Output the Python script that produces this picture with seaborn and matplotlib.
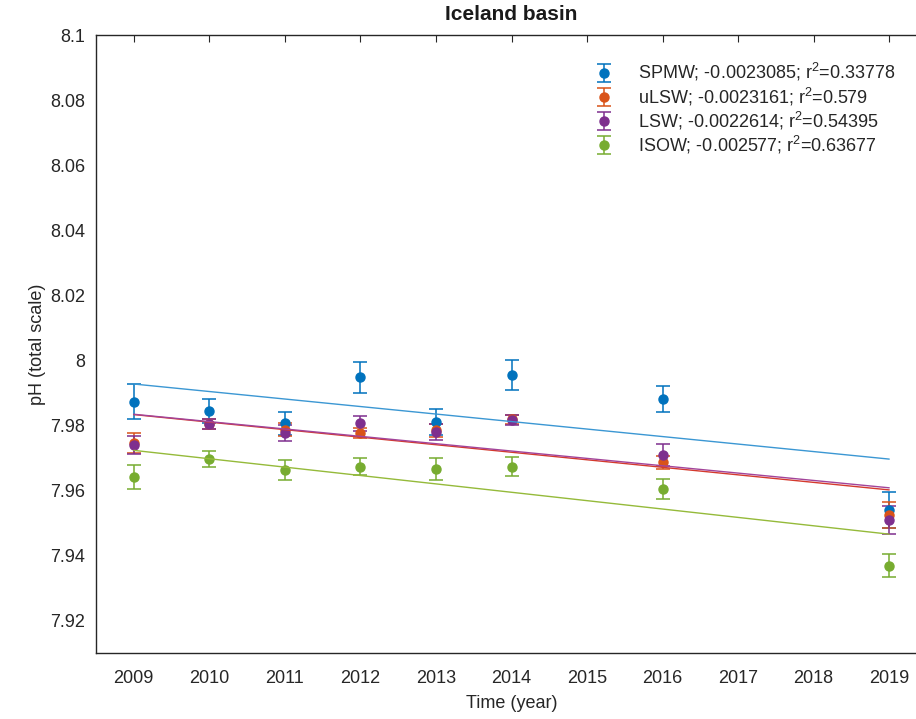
import numpy as np
import pandas as pd
import matplotlib
matplotlib.use("Agg")
import matplotlib.pyplot as plt
import seaborn as sns

years = [2009, 2010, 2011, 2012, 2013, 2014, 2016, 2019]

spmw = [7.9873, 7.9844, 7.9806, 7.9948, 7.9811, 7.9955, 7.9881, 7.9540]
spmw_err = [0.0054, 0.0036, 0.0036, 0.0048, 0.0040, 0.0046, 0.0040, 0.0056]

ulsw = [7.9745, 7.9805, 7.9786, 7.9777, 7.9785, 7.9818, 7.9687, 7.9525]
ulsw_err = [0.0030, 0.0015, 0.0020, 0.0015, 0.0020, 0.0015, 0.0020, 0.0040]

lsw = [7.9740, 7.9803, 7.9776, 7.9806, 7.9780, 7.9816, 7.9709, 7.9509]
lsw_err = [0.0028, 0.0015, 0.0024, 0.0024, 0.0025, 0.0016, 0.0035, 0.0044]

isow = [7.9640, 7.9696, 7.9663, 7.9673, 7.9666, 7.9673, 7.9604, 7.9369]
isow_err = [0.0037, 0.0024, 0.0030, 0.0027, 0.0033, 0.0030, 0.0030, 0.0035]

names = ["SPMW", "uLSW", "LSW", "ISOW"]
slopes = [-0.0023085, -0.0023161, -0.0022614, -0.002577]
r2 = ["0.33778", "0.579", "0.54395", "0.63677"]
fit_at_2009 = [7.9927, 7.9833, 7.9834, 7.9723]
fit_years = [2009, 2019]

point_colors = ["#0072BD", "#D95319", "#7E2F8E", "#77AC30"]
line_colors = ["#3b97d3", "#d43a2e", "#a2449a", "#95ba3a"]

sns.set_theme(style="white")
plt.rcParams["font.family"] = ["Liberation Sans", "DejaVu Sans"]
plt.rcParams["mathtext.fontset"] = "custom"
plt.rcParams["mathtext.rm"] = "Liberation Sans"

fig = plt.figure(figsize=(9.16, 7.19), dpi=100)
ax = fig.add_axes([96 / 916, 66 / 719, 831 / 916, 618 / 719])

series = [(spmw, spmw_err), (ulsw, ulsw_err), (lsw, lsw_err), (isow, isow_err)]
handles = []
for i, (vals, errs) in enumerate(series):
    h = ax.errorbar(years, vals, yerr=errs, fmt="o", color=point_colors[i],
                    ms=6.5, elinewidth=1.1, capsize=5, capthick=1.1, zorder=3,
                    label=f"{names[i]}; {slopes[i]}; r$^2$={r2[i]}")
    handles.append(h)

for i in range(4):
    fy = [fit_at_2009[i] + slopes[i] * (y - 2009) for y in fit_years]
    df = pd.DataFrame({"x": fit_years, "y": fy})
    sns.lineplot(data=df, x="x", y="y", ax=ax, color=line_colors[i], lw=1.0, zorder=4)

ax.set_xlim(2008.5, 2019.5)
ax.set_ylim(7.91, 8.1)
ax.set_xticks(range(2009, 2020))
ax.set_yticks([7.92, 7.94, 7.96, 7.98, 8.0, 8.02, 8.04, 8.06, 8.08, 8.1])
ax.set_yticklabels(["7.92", "7.94", "7.96", "7.98", "8", "8.02", "8.04", "8.06", "8.08", "8.1"])
ax.tick_params(direction="in", length=5, width=0.8, top=True, right=True,
               labelsize=13, colors="#262626", pad=8)
ax.tick_params(axis="x", pad=12)
for s in ax.spines.values():
    s.set_color("#262626")
    s.set_linewidth(1.0)

ax.set_xlabel("Time (year)", fontsize=13, color="#262626", labelpad=6)
ax.set_ylabel("pH (total scale)", fontsize=13, color="#262626", labelpad=3)
ax.set_title("Iceland basin", fontsize=15, fontweight="bold", color="#1a1a1a",
             family=["Liberation Sans Narrow", "Liberation Sans", "DejaVu Sans"], pad=11)

leg = ax.legend(handles=handles, loc="upper left", bbox_to_anchor=(0.585, 0.975),
                frameon=False, fontsize=13, labelspacing=0.12, handlelength=1.2,
                handletextpad=1.3, borderaxespad=0.2)

fig.savefig("out.png", dpi=100)
